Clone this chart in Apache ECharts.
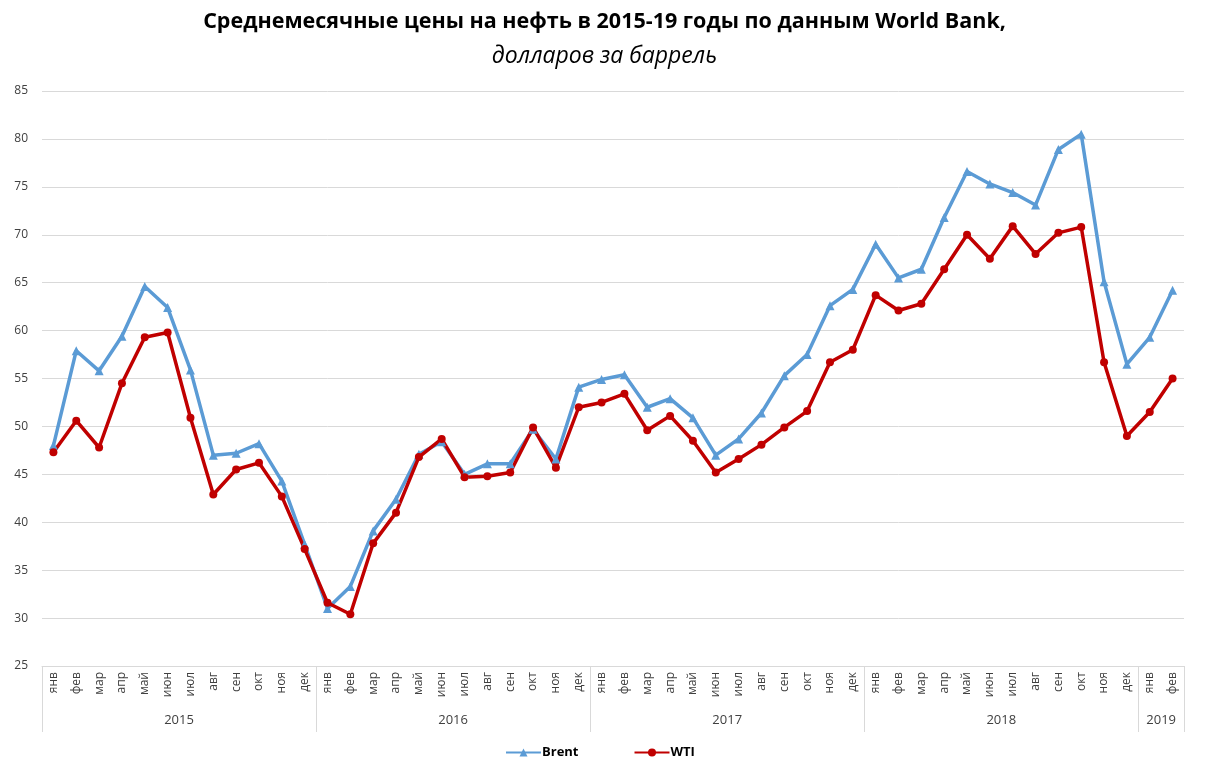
<!DOCTYPE html>
<html><head><meta charset="utf-8">
<script src="https://cdn.jsdelivr.net/npm/echarts@6/dist/echarts.min.js"></script>
<style>html,body{margin:0;padding:0;background:#fff}#c{width:1209px;height:772px}</style>
</head><body><div id="c"></div>
<script>
const months = ['янв','фев','мар','апр','май','июн','июл','авг','сен','окт','ноя','дек'];
const years = ['2015','2016','2017','2018','2019'];
const categories = [];
for (let y = 0; y < 4; y++) months.forEach(m => categories.push(m));
categories.push('янв', 'фев');
const brent = [48.0,57.9,55.8,59.4,64.6,62.4,55.9,47.0,47.2,48.2,44.3,37.7,
               31.0,33.3,39.1,42.4,47.1,48.4,45.0,46.1,46.1,49.7,46.6,54.1,
               54.9,55.4,52.0,52.9,50.9,47.0,48.7,51.4,55.3,57.5,62.6,64.3,
               69.0,65.5,66.4,71.8,76.6,75.3,74.4,73.1,78.9,80.5,65.1,56.5,
               59.3,64.2];
const wti = [47.3,50.6,47.8,54.5,59.3,59.8,50.9,42.9,45.5,46.2,42.7,37.2,
             31.6,30.4,37.8,41.0,46.8,48.7,44.7,44.8,45.2,49.9,45.7,52.0,
             52.5,53.4,49.6,51.1,48.5,45.2,46.6,48.1,49.9,51.6,56.7,58.0,
             63.7,62.1,62.8,66.4,70.0,67.5,70.9,68.0,70.2,70.8,56.7,49.0,
             51.5,55.0];
const yTicks = {min:25, max:85, interval:5};
const yearCenters = [6,18,30,42,49];
const yearBounds = [0,12,24,36,48,50];

const chart = echarts.init(document.getElementById('c'));
chart.setOption({
  animation:false,
  backgroundColor:'#fff',
  title:[
    {text:'Среднемесячные цены на нефть в 2015-19 годы по данным World Bank,', left:'center', top:6,
     textStyle:{fontFamily:'Open Sans', fontWeight:'bold', fontSize:21.5, color:'#000'}},
    {text:'долларов за баррель', left:'center', top:40,
     textStyle:{fontFamily:'Open Sans', fontStyle:'italic', fontWeight:'normal', fontSize:23, color:'#000'}}
  ],
  legend:{
    bottom:8, left:500, itemGap:55, itemWidth:35, itemHeight:10,
    textStyle:{fontFamily:'Open Sans', fontWeight:'bold', fontSize:13, color:'#000', padding:[0,0,0,-4]},
    data:['Brent','WTI']
  },
  grid:{left:42, right:25, top:91, bottom:106, containLabel:false},
  xAxis:[
    {type:'category', data:categories, boundaryGap:true,
     axisLine:{lineStyle:{color:'#d9d9d9', width:1}},
     axisTick:{show:false},
     axisLabel:{rotate:90, interval:0, margin:6, fontFamily:'Open Sans', fontSize:12, color:'#404040'}},
    {type:'value', min:0, max:50, position:'bottom', gridIndex:0,
     axisLine:{show:false},
     splitLine:{show:false},
     axisTick:{show:true, customValues:yearBounds, length:66, lineStyle:{color:'#d9d9d9'}},
     axisLabel:{customValues:yearCenters, margin:48, fontFamily:'Open Sans', fontSize:13, color:'#404040',
       formatter:v => years[yearCenters.indexOf(v)]}}
  ],
  yAxis:{type:'value', min:yTicks.min, max:yTicks.max, interval:yTicks.interval,
    axisLine:{show:false}, axisTick:{show:false},
    splitLine:{lineStyle:{color:'#d9d9d9', width:1}},
    axisLabel:{margin:14, fontFamily:'Open Sans', fontSize:12, color:'#404040'}},
  series:[
    {name:'Brent', type:'line', data:brent, xAxisIndex:0,
     symbol:'triangle', symbolSize:9, showAllSymbol:true,
     itemStyle:{color:'#5B9BD5'}, lineStyle:{color:'#5B9BD5', width:3.5}},
    {name:'WTI', type:'line', data:wti, xAxisIndex:0,
     symbol:'circle', symbolSize:8, showAllSymbol:true,
     itemStyle:{color:'#C00000'}, lineStyle:{color:'#C00000', width:3.5}}
  ]
});
</script></body></html>
